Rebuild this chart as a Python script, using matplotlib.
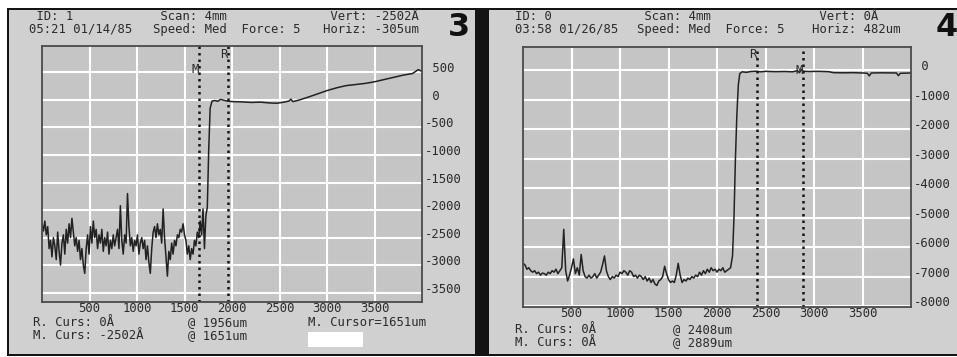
import numpy as np
import matplotlib.pyplot as plt
from matplotlib.patches import Rectangle

W, H = 957, 357

# scan 3: noisy part sampled every 15 um from 0, then the step and slope
scan3_noise = [-2250, -2380, -2200, -2450, -2300, -2700, -2550, -2850, -2500, -2650,
               -2900, -2400, -2750, -3000, -2600, -2450, -2800, -2350, -2600, -2250,
               -2500, -2150, -2400, -2650, -2500, -2750, -2550, -2900, -2700, -3000,
               -3150, -2700, -2450, -2800, -2300, -2600, -2200, -2500, -2350, -2700,
               -2450, -2600, -2350, -2750, -2500, -2650, -2400, -2800, -2550, -2700,
               -2450, -2650, -2500, -2350, -2700, -1920, -2550, -2800, -2450, -2600,
               -1700, -2300, -2650, -2500, -2750, -2550, -2650, -2450, -2800, -2600,
               -2500, -2700, -2550, -2900, -2650, -2950, -3150, -2700, -2400, -2300,
               -2500, -2250, -2450, -2350, -2600, -1980, -2500, -2850, -3200, -2750,
               -2900, -2600, -2800, -2550, -2650, -2450, -2500, -2350, -2400, -2250,
               -2450, -2550, -2800, -2650, -2900, -2700, -2800, -2550, -2650, -2400,
               -2500, -2200, -2450, -1980, -2700, -2100]
scan3_tail_x = [1740, 1755, 1770, 1790, 1820, 1850, 1880, 1900, 1950, 2000, 2100, 2200,
                2300, 2400, 2470, 2530, 2600, 2620, 2640, 2700, 2800, 2900, 3000, 3100,
                3200, 3300, 3400, 3500, 3600, 3700, 3800, 3900, 3960, 4000]
scan3_tail_y = [-1950, -900, -150, -20, -10, -25, 10, 0, -20, -30, -35, -45,
                -40, -55, -60, -45, -20, 15, -30, -5, 50, 110, 170, 220,
                260, 280, 300, 330, 370, 410, 450, 480, 550, 520]

# scan 4: baseline sampled every 20 um from 0, then the step and plateau
scan4_base = [-6550, -6600, -6750, -6700, -6800, -6850, -6800, -6900, -6850, -6950,
              -6880, -6900, -6950, -6850, -6900, -6800, -6850, -6750, -6900, -6800,
              -6700, -5400, -6800, -7150, -6950, -6700, -6400, -6900, -6700, -6950,
              -6250, -6800, -7000, -7050, -6950, -7050, -7000, -6900, -7050, -6950,
              -6850, -6600, -6300, -6800, -7000, -7100, -7000, -7050, -6950, -7000,
              -6850, -6900, -6800, -6850, -6950, -6800, -6850, -7000, -6950, -7050,
              -6950, -7000, -7100, -7000, -7150, -7050, -7200, -7100, -7250, -7300,
              -7150, -7100, -7000, -6650, -6900, -7100, -7200, -7150, -7200, -6950,
              -6550, -6950, -7200, -7100, -7150, -7050, -7100, -7000, -7050, -6950,
              -7000, -6850, -6950, -6800, -6900, -6750, -6850, -6700, -6800, -6750,
              -6850, -6750, -6800, -6700, -6850, -6800, -6750, -6700]
scan4_tail_x = [2160, 2175, 2190, 2205, 2220, 2235, 2260, 2300, 2350, 2400, 2450, 2500,
                2600, 2700, 2780, 2830, 2850, 2870, 2890, 2950, 3050, 3150, 3200, 3300,
                3400, 3500, 3550, 3570, 3590, 3700, 3800, 3850, 3870, 3890, 4000]
scan4_tail_y = [-6300, -5000, -3000, -1500, -500, -120, -60, -80, -50, -40, -60, -45,
                -55, -50, -60, -20, -90, 20, -40, -50, -45, -55, -90, -95,
                -90, -100, -110, -200, -100, -95, -100, -100, -190, -110, -100]

x_ticks = [500, 1000, 1500, 2000, 2500, 3000, 3500]
y_ticks3 = [500, 0, -500, -1000, -1500, -2000, -2500, -3000, -3500]
y_ticks4 = [0, -1000, -2000, -3000, -4000, -5000, -6000, -7000, -8000]

cursors3 = {"M": 1651, "R": 1956}
cursors4 = {"R": 2408, "M": 2889}

mono = "DejaVu Sans Mono"
txt = "#2b2b2b"
fs = 8.8


def fx(x):
    return x / W


def fy(y):
    return 1 - y / H


fig = plt.figure(figsize=(W / 100, H / 100), dpi=100)
fig.patch.set_facecolor("white")

# black frame and the two gray screens
fig.add_artist(Rectangle((fx(7), fy(356)), fx(957 - 7), 348 / H, transform=fig.transFigure,
                         facecolor="#141414", edgecolor="none", zorder=0))
for x0, x1 in [(9, 475), (489, 957)]:
    fig.add_artist(Rectangle((fx(x0), fy(354)), fx(x1 - x0), 344 / H, transform=fig.transFigure,
                             facecolor="#d0d0d0", edgecolor="none", zorder=0))


def setup(ax, ylim, yticks, ylabels):
    ax.set_facecolor("#c5c5c5")
    ax.set_xlim(0, 4000)
    ax.set_ylim(*ylim)
    ax.set_xticks(x_ticks)
    ax.set_xticklabels([str(v) for v in x_ticks])
    ax.set_yticks(yticks)
    ax.set_yticklabels(ylabels)
    ax.yaxis.tick_right()
    ax.tick_params(length=0, labelsize=fs, labelcolor=txt)
    ax.tick_params(axis="x", pad=0)
    ax.tick_params(axis="y", pad=2)
    for lab in ax.get_xticklabels() + ax.get_yticklabels():
        lab.set_family(mono)
    for lab in ax.get_yticklabels():
        lab.set_va("baseline")
    ax.grid(True, color="white", lw=1.5)
    ax.set_axisbelow(True)
    for s in ax.spines.values():
        s.set_color("#4a4a4a")
        s.set_linewidth(1.3)


def ylab(vals):
    return [(" " + str(v)) if v >= 0 else str(v) for v in vals]


def cursor_label(ax, pos, frac, name):
    ax.text(pos, frac, name, transform=ax.get_xaxis_transform(), ha="right", va="center",
            family=mono, fontsize=fs, color=txt)


# left screen (scan 3)
ax3 = fig.add_axes([fx(42), fy(302), fx(380), 256 / H])
setup(ax3, (-3670, 980), y_ticks3, ylab(y_ticks3))
x3 = list(15 * np.arange(len(scan3_noise))) + scan3_tail_x
y3 = scan3_noise + scan3_tail_y
ax3.plot(x3, y3, color="#222222", lw=1.1)
for name, pos in cursors3.items():
    ax3.axvline(pos, color="#151515", lw=1.8, ls=(0, (1, 1.6)), dash_capstyle="butt")
cursor_label(ax3, cursors3["M"], 0.91, "M")
cursor_label(ax3, cursors3["R"], 0.965, "R")

# right screen (scan 4)
ax4 = fig.add_axes([fx(523), fy(307), fx(388), 260 / H])
setup(ax4, (-8030, 780), y_ticks4, ylab(y_ticks4))
x4 = list(20 * np.arange(len(scan4_base))) + scan4_tail_x
y4 = scan4_base + scan4_tail_y
ax4.plot(x4, y4, color="#222222", lw=1.1)
for name, pos in cursors4.items():
    ax4.axvline(pos, color="#151515", lw=1.8, ls=(0, (1, 1.6)), dash_capstyle="butt")
cursor_label(ax4, cursors4["R"], 0.97, "R")
cursor_label(ax4, cursors4["M"], 0.91, "M")


def put(x, y, s, **kw):
    # two-line blocks: y is the centre of the block
    fig.text(fx(x), fy(y), s, family=mono, fontsize=fs, color=txt, va="center",
             linespacing=0.95, **kw)


# headers
put(29, 23, " ID: 1\n05:21 01/14/85")
put(153, 23, " Scan: 4mm\nSpeed: Med  Force: 5")
put(323, 23, " Vert: -2502Å\nHoriz: -305um")
fig.text(fx(459), fy(27), "3", ha="center", va="center", fontsize=23, fontweight="bold",
         color="#111111", family="DejaVu Sans")

put(515, 23, "ID: 0\n03:58 01/26/85")
put(637, 23, " Scan: 4mm\nSpeed: Med  Force: 5")
put(812, 23, " Vert: 0Å\nHoriz: 482um")
fig.text(fx(936), fy(27), "4", ha="left", va="center", fontsize=23, fontweight="bold",
         color="#111111", family="DejaVu Sans")

# footers
put(33, 329, "R. Curs: 0Å\nM. Curs: -2502Å")
put(188, 329, "@ 1956um\n@ 1651um")
put(308, 323, "M. Cursor=1651um")
fig.add_artist(Rectangle((fx(308), fy(347)), fx(55), 15 / H, transform=fig.transFigure,
                         facecolor="white", edgecolor="none"))

put(515, 336, "R. Curs: 0Å\nM. Curs: 0Å")
put(673, 336, "@ 2408um\n@ 2889um")

fig.savefig("out.png", dpi=100)
